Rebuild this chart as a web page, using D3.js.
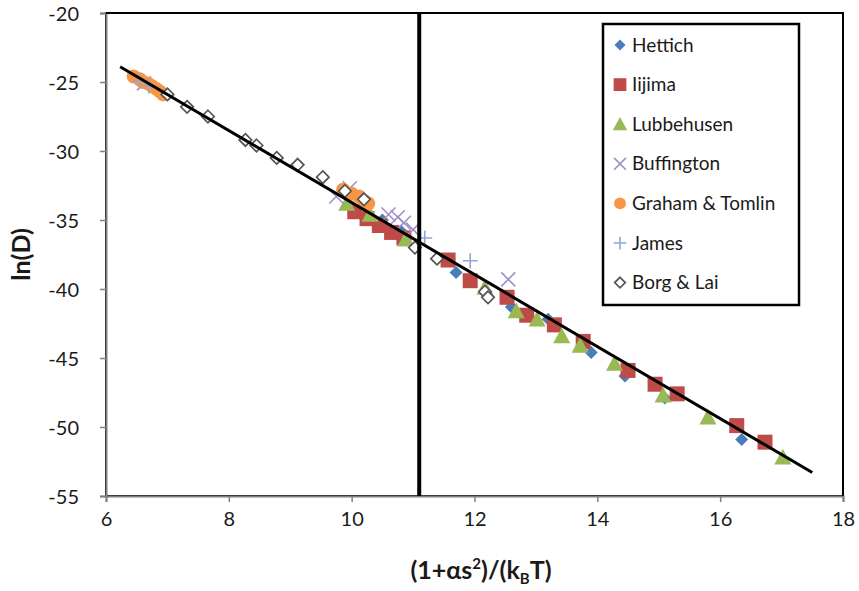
<!DOCTYPE html>
<html><head><meta charset="utf-8">
<script src="https://cdn.jsdelivr.net/npm/d3@7"></script>
<style>
html,body{margin:0;padding:0;background:#fff;}
svg{display:block;font-family:Lato,"Open Sans",sans-serif;}
</style></head>
<body>
<svg id="chart" width="859" height="591"></svg>
<script>
// ---- data ----
const hettich = [[10.5,-35.0],[10.8,-35.8],[11.7,-38.8],[12.6,-41.3],[13.2,-42.2],[13.9,-44.6],[14.45,-46.3],[15.1,-47.9],[16.35,-50.9]];
const iijima = [[10.05,-34.4],[10.25,-34.9],[10.45,-35.4],[10.65,-35.9],[10.85,-36.3],[11.57,-37.9],[11.93,-39.4],[12.53,-40.6],[12.85,-41.9],[13.3,-42.6],[13.77,-43.8],[14.5,-45.9],[14.94,-46.9],[15.3,-47.6],[16.27,-49.9],[16.73,-51.1]];
const lubbehusen = [[9.92,-33.8],[10.3,-34.6],[10.88,-36.4],[12.17,-39.9],[12.68,-41.6],[13.02,-42.2],[13.42,-43.4],[13.72,-44.1],[14.28,-45.4],[15.07,-47.7],[15.8,-49.3],[17.02,-52.2]];
const buffington = [[6.62,-25.1],[9.75,-33.3],[9.97,-32.7],[10.6,-34.6],[10.75,-34.8],[10.85,-35.2],[11.0,-35.7],[12.55,-39.3]];
const grahamTomlin = [[6.45,-24.6],[6.55,-24.8],[6.6,-25.0],[6.68,-25.1],[6.75,-25.3],[6.82,-25.5],[6.88,-25.7],[6.93,-25.9],[9.86,-32.8],[10.0,-33.1],[10.12,-33.3],[10.2,-33.6],[10.27,-33.8]];
const james = [[6.55,-24.9],[6.7,-25.3],[11.19,-36.3],[11.93,-37.95]];
const borgLai = [[7.0,-25.9],[7.32,-26.8],[7.66,-27.5],[8.27,-29.2],[8.45,-29.6],[8.78,-30.5],[9.12,-31.0],[9.53,-31.9],[9.89,-32.9],[10.2,-33.5],[11.03,-37.0],[11.39,-37.8],[12.17,-40.2],[12.22,-40.6]];
const seriesNames = ["Hettich","Iijima","Lubbehusen","Buffington","Graham & Tomlin","James","Borg & Lai"];
const trendX = [6.23, 17.5];
const trendY = [-23.9, -53.3];
const vLineX = 11.1;
const xTicks = [6,8,10,12,14,16,18];
const yTicks = [-20,-25,-30,-35,-40,-45,-50,-55];

// ---- layout ----
const svg = d3.select("#chart");
const L = 106, R = 843, T = 13, B = 496;
const x = d3.scaleLinear().domain([6,18]).range([L,R]);
const y = d3.scaleLinear().domain([-55,-20]).range([B,T]);

const styles = [
  {data:hettich, shape:"diamond", fill:"#4a7ebb", stroke:"none", size:13},
  {data:iijima, shape:"square", fill:"#be4b48", stroke:"none", size:15},
  {data:lubbehusen, shape:"triangle", fill:"#98b954", stroke:"none", size:17},
  {data:buffington, shape:"x", fill:"none", stroke:"#9f8fc7", size:14},
  {data:grahamTomlin, shape:"circle", fill:"#f79646", stroke:"none", size:14},
  {data:james, shape:"plus", fill:"none", stroke:"#8fa6d6", size:15},
  {data:borgLai, shape:"odiamond", fill:"#fff", stroke:"#555", size:12.5}
];

function markerPath(shape, s){
  const h = s/2;
  switch(shape){
    case "diamond": case "odiamond": return `M0,${-h}L${h},0L0,${h}L${-h},0Z`;
    case "square": return `M${-h},${-h}H${h}V${h}H${-h}Z`;
    case "triangle": return `M0,${-h}L${h},${h*0.85}L${-h},${h*0.85}Z`;
    case "x": return `M${-h},${-h}L${h},${h}M${-h},${h}L${h},${-h}`;
    case "plus": return `M${-h},0H${h}M0,${-h}V${h}`;
    case "circle": return d3.symbol(d3.symbolCircle, Math.PI*h*h)();
  }
}
function drawMarker(g, st, px, py){
  g.append("path").attr("transform",`translate(${px},${py})`)
    .attr("d", markerPath(st.shape, st.size))
    .attr("fill", st.fill).attr("stroke", st.stroke)
    .attr("stroke-width", st.shape==="odiamond"?1.7:1.6);
}

// frame
svg.append("rect").attr("x",L).attr("y",T).attr("width",R-L).attr("height",B-T)
  .attr("fill","none").attr("stroke","#000").attr("stroke-width",2);

// axes
const xAxis = svg.append("g").attr("transform",`translate(0,${B})`)
  .call(d3.axisBottom(x).tickValues(xTicks).tickSize(6).tickPadding(10).tickFormat(d3.format("d")));
const yAxis = svg.append("g").attr("transform",`translate(${L},0)`)
  .call(d3.axisLeft(y).tickValues(yTicks).tickSize(6).tickPadding(21).tickFormat(d=>String(d).replace("\u2212","-")));
[xAxis,yAxis].forEach(a=>{
  a.select(".domain").attr("stroke","#7f7f7f").attr("stroke-width",2);
  a.selectAll(".tick line").attr("stroke","#7f7f7f").attr("stroke-width",1.5);
  a.selectAll("text").attr("font-size",20).attr("fill","#1a1a1a").attr("font-family","Lato, sans-serif");
});
yAxis.selectAll("text").attr("dy","0.35em");
svg.append("line").attr("x1",L).attr("x2",R).attr("y1",T).attr("y2",T).attr("stroke","#000").attr("stroke-width",2);
svg.append("line").attr("x1",R).attr("x2",R).attr("y1",T).attr("y2",B).attr("stroke","#000").attr("stroke-width",2);

// points
const pts = svg.append("g");
styles.forEach(st=>{
  st.data.forEach(d=>drawMarker(pts, st, x(d[0]), y(d[1])));
});

// trendline
svg.append("line").attr("x1",x(trendX[0])).attr("y1",y(trendY[0]))
  .attr("x2",x(trendX[1])).attr("y2",y(trendY[1]))
  .attr("stroke","#000").attr("stroke-width",3);

// vertical line
svg.append("line").attr("x1",x(vLineX)).attr("x2",x(vLineX)).attr("y1",T).attr("y2",B)
  .attr("stroke","#000").attr("stroke-width",4);

// axis titles
const xt = svg.append("text").attr("x",481).attr("y",579).attr("text-anchor","middle")
  .attr("font-size",25).attr("font-weight","bold").attr("fill","#1a1a1a");
xt.append("tspan").text("(1+\u03B1s");
xt.append("tspan").attr("font-size",15).attr("dy",-10).text("2");
xt.append("tspan").attr("dy",10).text(")/(k");
xt.append("tspan").attr("font-size",15).attr("dy",5).text("B");
xt.append("tspan").attr("dy",-5).text("T)");

svg.append("text").attr("transform",`translate(30,${(T+B)/2}) rotate(-90)`)
  .attr("text-anchor","middle").attr("font-size",25).attr("font-weight","bold").attr("fill","#1a1a1a")
  .text("ln(D)");

// legend
const lg = svg.append("g");
lg.append("rect").attr("x",603).attr("y",24).attr("width",196).attr("height",281)
  .attr("fill","#fff").attr("stroke","#000").attr("stroke-width",2.5);
styles.forEach((st,i)=>{
  const cy = 45 + i*39.6;
  const s2 = Object.assign({}, st, {size: st.size*0.85});
  drawMarker(lg, s2, 620, cy);
  lg.append("text").attr("x",632).attr("y",cy).attr("dy","0.35em")
    .attr("font-size",19).attr("fill","#1a1a1a").text(seriesNames[i]);
});
</script>
</body></html>
